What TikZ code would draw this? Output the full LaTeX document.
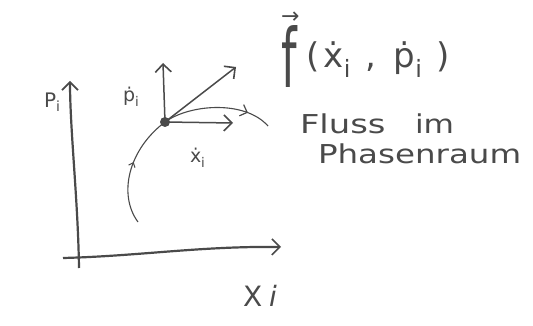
\documentclass[tikz,border=0pt]{standalone}
\usepackage{fontspec}
\setmainfont{DejaVu Sans}
\usetikzlibrary{arrows.meta,decorations.markings}
\definecolor{pencil}{HTML}{4A4A4A}
\begin{document}
\begin{tikzpicture}[x=1pt,y=-1pt,line width=2pt,color=pencil,
  every node/.style={text=pencil,inner sep=0pt},
  tip/.style={-{Straight Barb[length=8pt,width=16pt,line width=1.6pt]}},
  lbl/.style={font=\fontsize{20}{20}\selectfont}]
\useasboundingbox (0,0) rectangle (533,326);
% axes
\coordinate (vb) at (79,268);
\coordinate (vt) at (70,81);
\coordinate (hl) at (63,258);
\coordinate (hr) at (281,247);
\draw[tip,line width=2.2pt] (vb) .. controls (78,200) and (70,130) .. (vt);
\draw[tip,line width=2.2pt] (hl) .. controls (140,256) and (200,246) .. (hr);
% point and trajectory
\coordinate (P) at (165,122);
\coordinate (pu) at (163,63);
\coordinate (fv) at (236,67);
\coordinate (xv) at (233,123);
\coordinate (cs) at (138,222);
\coordinate (ce) at (268,126);
\draw[line width=1.1pt,postaction={decorate},decoration={markings,mark=at position 0.55 with {\arrow{Straight Barb[length=4pt,width=7pt,line width=1pt]}}}]
  (cs) .. controls (118,195) and (128,150) .. (P);
\draw[line width=1.1pt,postaction={decorate},decoration={markings,mark=at position 0.78 with {\arrow{Straight Barb[length=6pt,width=12pt,line width=1.2pt]}}}]
  (P) .. controls (190,104) and (245,100) .. (ce);
\fill (P) circle (5);
\draw[tip,line width=1.5pt] (P) -- (pu);
\draw[tip,line width=1.5pt] (P) -- (fv);
\draw[tip,line width=1.5pt] (P) -- (xv);
% labels
\node[lbl,anchor=base west] (Pi) at (43,108) {P\textsubscript{i}};
\node[anchor=base west,font=\fontsize{19}{19}\selectfont] (pdot) at (122,102) {ṗ\textsubscript{i}};
\node[anchor=base west,font=\fontsize{19}{19}\selectfont] (xdot) at (189,163) {ẋ\textsubscript{i}};
\node[anchor=base west,font=\fontsize{28}{28}\selectfont] (Xi) at (242,306) {X\hspace{0.25em}\textit{i}};
\node[anchor=base west,font=\fontsize{34}{34}\selectfont] (f) at (280,68)
  {\makebox[0pt][l]{\raisebox{44pt}{\fontsize{22}{22}\selectfont →}}\raisebox{-20pt}{\scalebox{1.3}[2.4]{f}}\hspace{10pt}(\hspace{4pt}ẋ\textsubscript{i}\hspace{14pt},\hspace{18pt}ṗ\textsubscript{i}\hspace{14pt})};
\node[anchor=base west,font=\fontsize{26}{26}\selectfont] (fluss) at (299,134) {\scalebox{1.3}[1]{Fluss}};
\node[anchor=base west,font=\fontsize{26}{26}\selectfont] (im) at (414,134) {\scalebox{1.2}[1]{im}};
\node[anchor=base west,font=\fontsize{26}{26}\selectfont] (phase) at (317,164) {\scalebox{1.25}[1]{Phasenraum}};
\end{tikzpicture}
\end{document}
